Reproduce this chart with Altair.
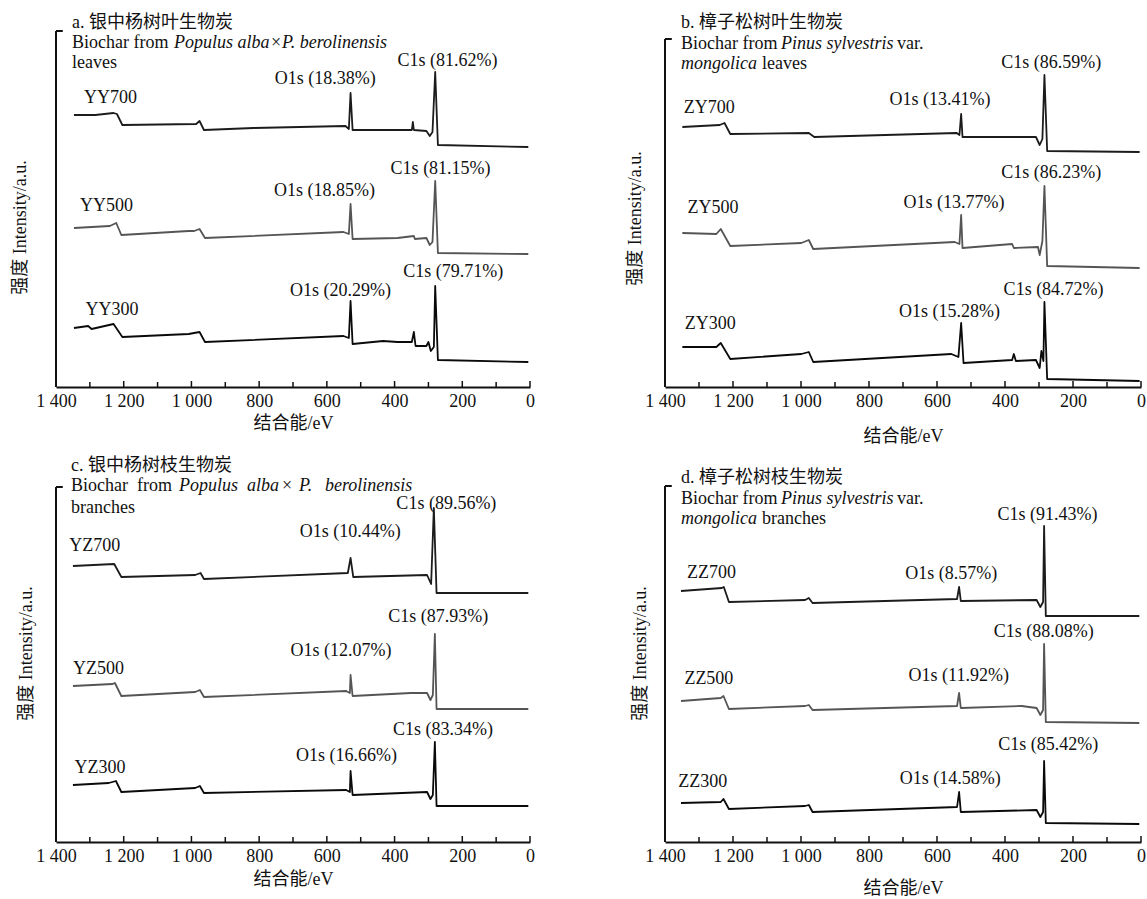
import altair as alt
import pandas as pd

FONT = "Liberation Serif, Noto Sans CJK SC, serif"
FS = 18
INK = "#111111"

# ---------------- Panel a : 银中杨树叶 ----------------
YY700_E = [1347, 1284, 1230, 1220, 1204, 986, 976, 963, 817, 545, 535, 530, 524, 349, 346, 343, 306, 296, 288, 280, 272, 5]
YY700_I = [272, 272, 274, 273, 262, 263, 266, 257, 259, 261, 258, 294, 257, 257, 265, 257, 256, 251, 255, 315, 242, 240]
YY500_E = [1347, 1241, 1222, 1207, 1008, 992, 976, 960, 551, 535, 530, 524, 391, 343, 340, 306, 296, 288, 280, 272, 5]
YY500_I = [159, 161, 164, 152, 156, 156, 158, 149, 155, 153, 183, 148, 149, 151, 148, 149, 142, 145, 206, 134, 133]
YY300_E = [1347, 1305, 1295, 1230, 1204, 1008, 976, 960, 551, 535, 530, 524, 434, 391, 349, 343, 338, 306, 300, 293, 284, 280, 272, 5]
YY300_I = [59, 61, 58, 63, 50, 53, 55, 45, 51, 49, 86, 43, 46, 45, 45, 55, 41, 41, 45, 36, 40, 101, 27, 25]
A_NAMES = ["YY700", "YY500", "YY300"]
A_NAME_E = [1317, 1329, 1313]
A_NAME_I = [289, 181, 77]
A_O1S = ["O1s (18.38%)", "O1s (18.85%)", "O1s (20.29%)"]
A_O1S_E = [605, 607, 560]
A_O1S_I = [308, 196, 96]
A_C1S = ["C1s (81.62%)", "C1s (81.15%)", "C1s (79.71%)"]
A_C1S_E = [244, 264, 227]
A_C1S_I = [326, 218, 115]

# ---------------- Panel b : 樟子松树叶 ----------------
ZY700_E = [1349, 1239, 1225, 1208, 977, 961, 542, 534, 529, 525, 309, 298, 290, 284, 276, 4]
ZY700_I = [260, 262, 264, 253, 254, 250, 254, 252, 273, 250, 250, 242, 248, 312, 236, 235]
ZY500_E = [1349, 1249, 1236, 1208, 999, 977, 964, 548, 534, 529, 525, 379, 374, 303, 298, 290, 284, 276, 4]
ZY500_I = [154, 153, 158, 141, 144, 147, 138, 145, 143, 172, 139, 143, 139, 140, 132, 146, 201, 121, 119]
ZY300_E = [1349, 1249, 1236, 1208, 999, 977, 964, 558, 537, 529, 522, 379, 374, 368, 309, 298, 293, 287, 284, 276, 4]
ZY300_I = [40, 40, 44, 28, 33, 35, 25, 33, 30, 64, 24, 27, 33, 26, 27, 19, 36, 26, 85, 8, 6]
B_NAMES = ["ZY700", "ZY500", "ZY300"]
B_NAME_E = [1345, 1334, 1342]
B_NAME_I = [279, 179, 63]
B_O1S = ["O1s (13.41%)", "O1s (13.77%)", "O1s (15.28%)"]
B_O1S_E = [591, 550, 563]
B_O1S_I = [287, 184, 75]
B_C1S = ["C1s (86.59%)", "C1s (86.23%)", "C1s (84.72%)"]
B_C1S_E = [264, 264, 257]
B_C1S_I = [324, 214, 97]

# ---------------- Panel c : 银中杨树枝 ----------------
YZ700_E = [1350, 1228, 1207, 989, 973, 963, 538, 530, 522, 304, 292, 284, 276, 5]
YZ700_I = [276, 278, 265, 267, 269, 263, 269, 284, 265, 267, 258, 334, 249, 249]
YZ500_E = [1350, 1233, 1226, 1207, 989, 975, 963, 543, 532, 530, 524, 352, 304, 294, 287, 281, 276, 5]
YZ500_I = [156, 158, 159, 146, 150, 152, 145, 151, 149, 167, 146, 149, 149, 142, 147, 208, 133, 133]
YZ300_E = [1350, 1244, 1223, 1207, 989, 975, 963, 543, 532, 530, 524, 304, 294, 287, 281, 276, 5]
YZ300_I = [57, 59, 61, 50, 54, 56, 49, 52, 50, 71, 47, 50, 43, 47, 100, 36, 36]
C_NAMES = ["YZ700", "YZ500", "YZ300"]
C_NAME_E = [1361, 1350, 1345]
C_NAME_I = [296, 173, 74]
C_O1S = ["O1s (10.44%)", "O1s (12.07%)", "O1s (16.66%)"]
C_O1S_E = [531, 558, 542]
C_O1S_I = [310, 191, 86]
C_C1S = ["C1s (89.56%)", "C1s (87.93%)", "C1s (83.34%)"]
C_C1S_E = [247, 271, 257]
C_C1S_I = [338, 225, 112]

# ---------------- Panel d : 樟子松树枝 ----------------
ZZ700_E = [1353, 1233, 1227, 1212, 988, 977, 966, 541, 535, 530, 307, 296, 288, 285, 280, 5]
ZZ700_I = [251, 254, 255, 240, 242, 244, 239, 243, 255, 241, 242, 235, 240, 316, 226, 226]
ZZ500_E = [1353, 1236, 1228, 1212, 988, 977, 966, 541, 535, 530, 351, 307, 296, 288, 285, 280, 5]
ZZ500_I = [141, 144, 146, 133, 136, 137, 132, 136, 149, 134, 136, 134, 127, 132, 198, 120, 119]
ZZ300_E = [1353, 1236, 1228, 1212, 988, 977, 966, 541, 535, 530, 307, 296, 288, 285, 280, 5]
ZZ300_I = [39, 40, 43, 33, 36, 37, 30, 35, 50, 30, 32, 25, 30, 81, 19, 18]
D_NAMES = ["ZZ700", "ZZ500", "ZZ300"]
D_NAME_E = [1335, 1343, 1361]
D_NAME_I = [269, 163, 60]
D_O1S = ["O1s (8.57%)", "O1s (11.92%)", "O1s (14.58%)"]
D_O1S_E = [558, 536, 561]
D_O1S_I = [268, 166, 63]
D_C1S = ["C1s (91.43%)", "C1s (88.08%)", "C1s (85.42%)"]
D_C1S_E = [275, 286, 273]
D_C1S_I = [327, 210, 97]

# panel headings
A_TITLE = "a. 银中杨树叶生物炭"
B_TITLE = "b. 樟子松树叶生物炭"
C_TITLE = "c. 银中杨树枝生物炭"
D_TITLE = "d. 樟子松树枝生物炭"

MAJOR_TICKS = [1400, 1200, 1000, 800, 600, 400, 200, 0]
MINOR_TICKS = [1300, 1100, 900, 700, 500, 300, 100]

X_TITLE = "结合能/eV"
Y_TITLE = "强度 Intensity/a.u."

SERIES_COLORS = ["#1c1c1c", "#555555", "#0a0a0a"]


def series_df(names, Es, Is):
    rows = []
    for n, e, i in zip(names, Es, Is):
        for k, (x, y) in enumerate(zip(e, i)):
            rows.append({"s": n, "E": x, "I": y, "k": k})
    return pd.DataFrame(rows)


def text_df(texts, Es, Is):
    return pd.DataFrame({"t": texts, "E": Es, "I": Is})


def panel(names, Es, Is, nameE, nameI, o_t, o_E, o_I, c_t, c_E, c_I,
          header, top_h, W, H, ypad, ytitle_y, xpad):
    xs = alt.Scale(domain=[1400, 0], nice=False, zero=False)
    ys = alt.Scale(domain=[0, H], nice=False, zero=False)
    xaxis = alt.Axis(
        values=MAJOR_TICKS,
        labelExpr="replace(format(datum.value, ','), ',', ' ')",
        ticks=False, tickSize=0, grid=False,
        domainWidth=2, domainColor=INK,
        labelFont=FONT, labelFontSize=FS, labelColor=INK,
        labelPadding=5, labelFlush=False, labelOverlap=False,
        titleFont=FONT, titleFontSize=FS, titleFontWeight="normal",
        titleColor=INK, titlePadding=xpad)
    yaxis = alt.Axis(
        domain=False, ticks=False, labels=False, grid=False,
        titleFont=FONT, titleFontSize=FS, titleFontWeight="normal",
        titleColor=INK, titlePadding=ypad, titleY=ytitle_y)

    def X(field="E"):
        return alt.X(f"{field}:Q", scale=xs, title=X_TITLE, axis=xaxis)

    def Y(field="I"):
        return alt.Y(f"{field}:Q", scale=ys, title=Y_TITLE, axis=yaxis)

    lines = alt.Chart(series_df(names, Es, Is)).mark_line(
        strokeWidth=1.8, strokeJoin="round"
    ).encode(
        x=X(), y=Y(),
        color=alt.Color("s:N", scale=alt.Scale(domain=names, range=SERIES_COLORS), legend=None),
        detail="s:N",
        order="k:Q",
    )

    yline = alt.Chart(pd.DataFrame({"E": [1400], "I": [0], "I2": [top_h]})).mark_rule(
        strokeWidth=2, color=INK
    ).encode(x=X(), y=Y(), y2="I2:Q")

    bracket = alt.Chart(pd.DataFrame({"E": [1400], "E2": [1380], "I": [top_h]})).mark_rule(
        strokeWidth=2, color=INK
    ).encode(x=X(), x2="E2:Q", y=Y())

    major = alt.Chart(pd.DataFrame({"E": MAJOR_TICKS, "I": 0, "I2": 6})).mark_rule(
        strokeWidth=1.5, color=INK
    ).encode(x=X(), y=Y(), y2="I2:Q")
    minor = alt.Chart(pd.DataFrame({"E": MINOR_TICKS, "I": 0, "I2": 5})).mark_rule(
        strokeWidth=1.5, color=INK
    ).encode(x=X(), y=Y(), y2="I2:Q")

    def texts(df, align, style="normal", dx=0):
        return alt.Chart(df).mark_text(
            align=align, baseline="middle", font=FONT, fontSize=FS, color=INK,
            fontStyle=style, dx=dx
        ).encode(x=X(), y=Y(), text="t:N")

    layers = [major, minor, yline, bracket, lines,
              texts(text_df(names, nameE, nameI), "left"),
              texts(text_df(o_t, o_E, o_I), "center"),
              texts(text_df(c_t, c_E, c_I), "center")]

    for txt, h, dx, style in header:
        layers.append(texts(text_df([txt], [1400], [h]), "left", style, dx))

    return alt.layer(*layers).properties(width=W, height=H)


H1, H2 = 356, 358
W1, W2 = 474, 476

pa = panel(A_NAMES, [YY700_E, YY500_E, YY300_E], [YY700_I, YY500_I, YY300_I],
           A_NAME_E, A_NAME_I, A_O1S, A_O1S_E, A_O1S_I, A_C1S, A_C1S_E, A_C1S_I,
           [(A_TITLE, 364, 16, "normal"),
            ("Biochar from", 344, 16, "normal"),
            ("Populus alba", 344, 118, "italic"),
            ("×", 344, 215, "normal"),
            ("P. berolinensis", 344, 226, "italic"),
            ("leaves", 324, 16, "normal")],
           356, W1, H1, 27, 196, 4)

pb = panel(B_NAMES, [ZY700_E, ZY500_E, ZY300_E], [ZY700_I, ZY500_I, ZY300_I],
           B_NAME_E, B_NAME_I, B_O1S, B_O1S_E, B_O1S_I, B_C1S, B_C1S_E, B_C1S_I,
           [(B_TITLE, 364, 16, "normal"),
            ("Biochar from", 343, 16, "normal"),
            ("Pinus sylvestris", 343, 116, "italic"),
            ("var.", 343, 232, "normal"),
            ("mongolica", 323, 16, "italic"),
            ("leaves", 323, 97, "normal")],
           348, W2, H1, 21, 187, 17)

pc = panel(C_NAMES, [YZ700_E, YZ500_E, YZ300_E], [YZ700_I, YZ500_I, YZ300_I],
           C_NAME_E, C_NAME_I, C_O1S, C_O1S_E, C_O1S_I, C_C1S, C_C1S_E, C_C1S_I,
           [(C_TITLE, 376, 15, "normal"),
            ("Biochar", 356, 15, "normal"),
            ("from", 356, 81, "normal"),
            ("Populus", 356, 123, "italic"),
            ("alba", 356, 191, "italic"),
            ("×", 356, 226, "normal"),
            ("P.", 356, 243, "italic"),
            ("berolinensis", 356, 269, "italic"),
            ("branches", 334, 15, "normal")],
           355, W1, H2, 21, 169, 5)

pd_ = panel(D_NAMES, [ZZ700_E, ZZ500_E, ZZ300_E], [ZZ700_I, ZZ500_I, ZZ300_I],
            D_NAME_E, D_NAME_I, D_O1S, D_O1S_E, D_O1S_I, D_C1S, D_C1S_E, D_C1S_I,
            [(D_TITLE, 364, 16, "normal"),
             ("Biochar from", 343, 16, "normal"),
             ("Pinus sylvestris", 343, 116, "italic"),
             ("var.", 343, 232, "normal"),
             ("mongolica", 323, 16, "italic"),
             ("branches", 323, 97, "normal")],
            356, W2, H2, 16, 169, 14)

chart = alt.concat(pa, pb, pc, pd_, columns=2, spacing={"row": 97, "column": 135},
                   bounds="flush").properties(
    padding={"left": 11, "top": 13, "right": 0, "bottom": 0},
    background="white",
).configure_view(stroke=None)

chart.save("out.html", embed_options={"renderer": "svg", "actions": False})
